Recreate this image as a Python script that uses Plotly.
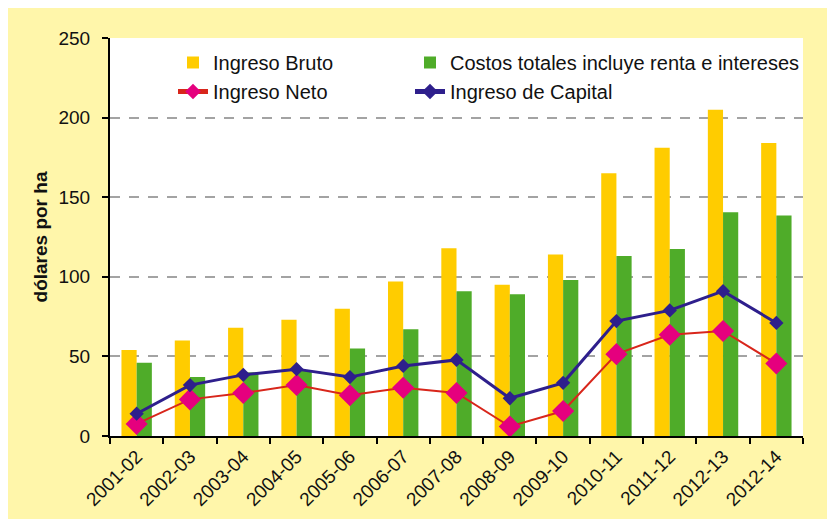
import plotly.graph_objects as go

categories = ["2001-02", "2002-03", "2003-04", "2004-05", "2005-06", "2006-07", "2007-08",
              "2008-09", "2009-10", "2010-11", "2011-12", "2012-13", "2012-14"]
ingreso_bruto = [54, 60, 68, 73, 80, 97, 118, 95, 114, 165, 181, 205, 184]
costos_totales = [46, 37, 40, 41, 55, 67, 91, 89, 98, 113, 117.5, 140.5, 138.5]
ingreso_neto = [7.6, 23, 27, 32, 25.6, 30.3, 27, 6, 15.7, 51.4, 63.6, 66, 45.5]
ingreso_capital = [14, 32, 38.4, 42, 37, 44, 47.8, 23.7, 33.4, 72.2, 78.9, 91, 71]
y_ticks = [0, 50, 100, 150, 200, 250]

FONT = "Liberation Sans, Arial, sans-serif"
YELLOW_BG = "#FFF6AA"

fig = go.Figure()
fig.add_trace(go.Bar(x=categories, y=ingreso_bruto, name="Ingreso Bruto", legend="legend",
                     marker=dict(color="#FFCC00", line=dict(width=0))))
fig.add_trace(go.Bar(x=categories, y=costos_totales, name="Costos totales incluye renta e intereses",
                     legend="legend2", marker=dict(color="#4FAC29", line=dict(width=0))))
fig.add_trace(go.Scatter(x=categories, y=ingreso_neto, name="Ingreso Neto", mode="lines+markers",
                         legend="legend",
                         line=dict(color="#D8261B", width=2),
                         marker=dict(symbol="diamond", size=17, color="#E5007E")))
fig.add_trace(go.Scatter(x=categories, y=ingreso_capital, name="Ingreso de Capital", mode="lines+markers",
                         legend="legend2",
                         line=dict(color="#2E1F8C", width=3),
                         marker=dict(symbol="diamond", size=11, color="#2E1F8C")))

# figure coordinates (the page body adds an 8px offset)
L, R, T, B = 102, 40, 30, 91
W, H = 835, 519
pw, ph = W - L - R, H - T - B

def px_x(p):
    return (p - L) / pw

def px_y(p):
    return (H - B - p) / ph

legend_common = dict(orientation="v", xanchor="left", yanchor="top", traceorder="normal",
                     itemsizing="constant",
                     font=dict(family=FONT, size=20, color="#111111"),
                     bgcolor="rgba(0,0,0,0)", borderwidth=0, tracegroupgap=0)

fig.update_layout(
    width=W, height=H,
    margin=dict(l=L, r=R, t=T, b=B, pad=0),
    paper_bgcolor=YELLOW_BG,
    plot_bgcolor="white",
    barmode="group", bargap=0.43, bargroupgap=0,
    font=dict(family=FONT, size=19, color="#111111"),
    showlegend=True,
    legend=dict(x=px_x(165), y=px_y(35), **legend_common),
    legend2=dict(x=px_x(402), y=px_y(35), **legend_common),
)

fig.update_xaxes(type="category", range=[-0.5, len(categories) - 0.5],
                 tickson="boundaries", ticks="outside", ticklen=6, tickwidth=2,
                 tickcolor="black", showline=True, linecolor="black", linewidth=2,
                 tickangle=-45, tickfont=dict(size=19), showgrid=False, zeroline=False,
                 automargin=False)
fig.update_yaxes(range=[0, 250], tickvals=y_ticks, ticks="outside", ticklen=6, tickwidth=2,
                 tickcolor="black", showline=True, linecolor="black", linewidth=2,
                 ticklabelstandoff=8, tickfont=dict(size=19),
                 showgrid=True, gridcolor="#A3A3A3", gridwidth=2, griddash="10px,9px",
                 zeroline=False, automargin=False,
                 title=dict(text="<b>dólares por ha</b>", font=dict(size=19), standoff=6))

fig.write_html("out.html")
